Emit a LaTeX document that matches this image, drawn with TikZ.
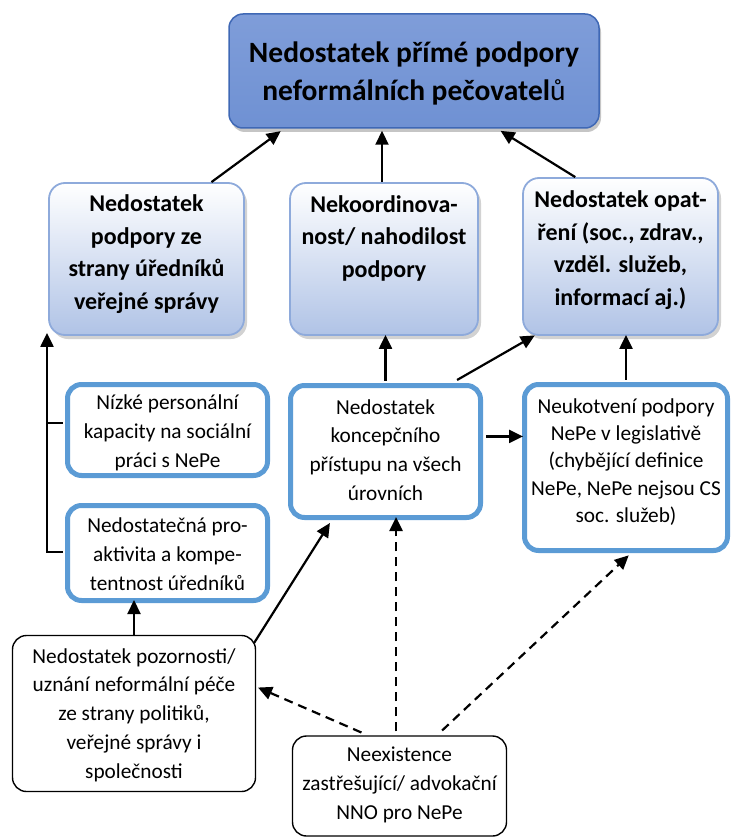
\documentclass[tikz,border=0pt]{standalone}
\usepackage{fontspec}
\setmainfont{Carlito}
\usetikzlibrary{arrows.meta,shadows,calc}
\definecolor{topA}{HTML}{7F9DD9}
\definecolor{topB}{HTML}{4472C4}
\definecolor{topC}{HTML}{6F91D3}
\definecolor{topD}{HTML}{3F68B5}
\definecolor{secB}{HTML}{B0C3E6}
\definecolor{secD}{HTML}{8EAADB}
\definecolor{thrD}{HTML}{5B9BD5}
\begin{document}
\begin{tikzpicture}[x=1pt,y=-1pt,
  topbox/.style={draw=topD, line width=1.5pt, rounded corners=14pt, top color=topA, middle color=topB, bottom color=topC,
     drop shadow={shadow xshift=2pt, shadow yshift=-4pt, fill=black!45}, inner sep=0pt},
  secbox/.style={draw=secD, line width=1.8pt, rounded corners=16pt, top color=white, bottom color=secB,
     drop shadow={shadow xshift=3pt, shadow yshift=-4pt, fill=black!35}, inner sep=0pt},
  thrbox/.style={draw=thrD, line width=5pt, rounded corners=14pt, fill=white, inner sep=0pt},
  botbox/.style={draw=black, line width=1.4pt, rounded corners=14pt, fill=white, inner sep=0pt},
  ttop/.style={align=center, font=\fontsize{29.5}{38}\selectfont\bfseries, inner sep=0pt},
  tsec/.style={align=center, font=\fontsize{24}{32.5}\selectfont\bfseries, inner sep=0pt},
  tthr/.style={align=center, font=\fontsize{21.3}{28.8}\selectfont, inner sep=0pt},
  arr/.style={line width=2.2pt, -{Triangle[length=14pt,width=13pt]}},
  darr/.style={line width=2.2pt, dash pattern=on 9pt off 6pt, -{Triangle[length=14pt,width=13pt]}}
]
\useasboundingbox (0,0) rectangle (732,837);

% top
\node[topbox, minimum width=370pt, minimum height=114pt] (top) at (414,71) {};
\node[ttop] (ttop) at (414,73) {Nedostatek přímé podpory\\neformálních pečovatel{\mdseries ů}};

% second row
\node[secbox, minimum width=195pt, minimum height=152pt] (l2) at (146.5,259) {};
\node[tsec] (tl2) at (146.5,254) {Nedostatek\\podpory ze\\strany úředníků\\veřejné správy};
\node[secbox, minimum width=188pt, minimum height=152pt] (m2) at (384,259) {};
\node[tsec] (tm2) at (384,238) {Nekoordinova-\\nost/ nahodilost\\podpory};
\node[secbox, minimum width=195pt, minimum height=157pt] (r2) at (620.5,256.5) {};
\node[tsec] (tr2) at (620.5,250) {Nedostatek opat-\\ření (soc., zdrav.,\\vzděl. služeb,\\informací aj.)};

% third row
\node[thrbox, minimum width=200pt, minimum height=91pt] (niz) at (167.5,430) {};
\node[tthr] (tniz) at (167.5,433) {Nízké personální\\kapacity na sociální\\práci s NePe};
\node[thrbox, minimum width=200pt, minimum height=95pt] (ned) at (167.5,553) {};
\node[tthr] (tned) at (167.5,554) {Nedostatečná pro-\\aktivita a kompe-\\tentnost úředníků};
\node[thrbox, minimum width=190pt, minimum height=132pt] (kon) at (385.5,451.5) {};
\node[tthr] (tkon) at (385.5,450) {Nedostatek\\koncepčního\\přístupu na všech\\úrovních};
\node[thrbox, minimum width=203pt, minimum height=166pt] (neu) at (626,467.5) {};
\node[tthr, font=\fontsize{21.3}{27.2}\selectfont] (tneu) at (626,462) {Neukotvení podpory\\NePe v legislativě\\(chybějící definice\\NePe, NePe nejsou CS\\soc. služeb)};

% bottom
\node[botbox, minimum width=243pt, minimum height=156pt] (poz) at (134,713.5) {};
\node[tthr] (tpoz) at (134,715) {Nedostatek pozornosti/\\uznání neformální péče\\ze strany politiků,\\veřejné správy i\\společnosti};
\node[botbox, minimum width=214pt, minimum height=100pt] (nex) at (399.5,786) {};
\node[tthr] (tnex) at (399.5,785) {Neexistence\\zastřešující/ advokační\\NNO pro NePe};

% helper coordinates
\coordinate (l2a) at ($(l2.north west)!0.83!(l2.north east)$);
\coordinate (topa) at ($(top.south west)!0.15!(top.south east)$);
\coordinate (r2a) at ($(r2.north west)!0.27!(r2.north east)$);
\coordinate (topc) at ($(top.south west)!0.724!(top.south east)$);
\coordinate (bx) at (47,0);
\coordinate (kona) at ($(kon.north west)!0.867!(kon.north east)+(0,-3)$);
\coordinate (r2b) at ($(r2.south west)!0.06!(r2.south east)$);
\coordinate (konr) at ($(kon.north east)!0.39!(kon.south east)+(3,0)$);
\coordinate (poza) at ($(poz.north east)+(-2,8)$);
\coordinate (konb) at ($(kon.south west)!0.215!(kon.south east)+(0,3)$);
\coordinate (nexa) at ($(nex.north west)!0.484!(nex.north east)$);
\coordinate (nexb) at ($(nex.north west)!0.353!(nex.north east)$);
\coordinate (nexc) at ($(nex.north west)!0.674!(nex.north east)$);
\coordinate (pozr) at ($(poz.north east)!0.33!(poz.south east)$);
\coordinate (neub) at ($(neu.south)+(2,3)$);

% connectors to top
\draw[arr, shorten >=4pt] (l2a) -- (topa);
\draw[arr, shorten >=2pt] (m2.north -| 382,0) -- (top.south -| 382,0);
\draw[arr, shorten >=4pt] (r2a) -- (topc);

% bracket
\draw[line width=2pt] (niz.west |- 0,423) ++(-2.5,0) -- (bx |- 0,423);
\draw[arr, shorten >=-3pt] (ned.west) ++(-2.5,-1) -| (bx |- l2.south);

% koncepcniho
\draw[arr, shorten >=-1pt] (kon.north) ++(0,-2.5) -- (kon.north |- m2.south);
\draw[arr, shorten >=-1pt] (kona) -- (r2b);
\draw[arr, shorten >=-1pt] (konr) -- (konr -| neu.west);
\draw[arr, shorten >=-1pt] (neu.north) ++(0,-2.5) -- (neu.north |- r2.south);

% from pozornosti
\draw[arr, shorten >=-3pt] (poz.north) -- (poz.north |- ned.south);
\draw[arr] (poza) -- (konb);

% from neexistence
\draw[darr, shorten <=4pt, shorten >=-3pt] (nexa) -- (nexa |- kon.south);
\draw[darr, shorten <=7pt, shorten >=2pt] (nexb) -- (pozr);
\draw[darr, shorten <=7pt, shorten >=-1pt] (nexc) -- (neub);
\end{tikzpicture}
\end{document}
